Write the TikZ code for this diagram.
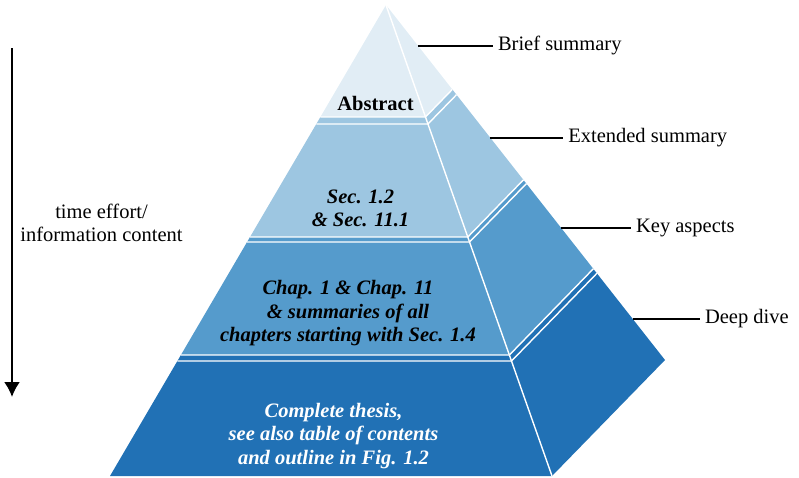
\documentclass[tikz,border=0pt]{standalone}
\usepackage{fontspec}
\setmainfont{Liberation Serif}
\usetikzlibrary{arrows.meta,positioning}
\definecolor{tierone}{RGB}{225,237,245}
\definecolor{tiertwo}{RGB}{157,198,225}
\definecolor{tierthree}{RGB}{85,155,204}
\definecolor{tierfour}{RGB}{33,113,181}

\begin{document}
\begin{tikzpicture}[x=1pt,y=-1pt,>={Latex[length=15pt,width=16pt]},
  sepline/.style={white,line width=1.4pt},
  leader/.style={line width=2pt},
  tag/.style={inner sep=5pt,font=\fontsize{20.5}{23.5}\selectfont},
  tiertext/.style={align=center,inner sep=0pt,font=\fontsize{20.5}{23.5}\selectfont\bfseries\itshape}]
\useasboundingbox (0,0) rectangle (799,477);
\fill[tierone] (386,5)--(320.4,117)--(425.5,117)--(452.3,89.4)--cycle;
\fill[tiertwo] (320.4,117)--(250,237)--(467.8,237)--(523.4,179.9)--(452.3,89.4)--(425.5,117)--cycle;
\fill[tierthree] (250,237)--(180.9,355)--(509.4,355)--(593.3,268.8)--(523.4,179.9)--(467.8,237)--cycle;
\fill[tierfour] (180.9,355)--(110,476)--(552,476)--(665,360)--(593.3,268.8)--(509.4,355)--cycle;
\draw[sepline] (386,5)--(552,476);
\draw[sepline] (320.4,117)--(425.5,117)--(452.3,89.4); \draw[sepline] (316.3,124)--(427.9,124)--(456.5,94.7);
\draw[sepline] (250,237)--(467.8,237)--(523.4,179.9); \draw[sepline] (247.1,242)--(469.5,242)--(526.4,183.6);
\draw[sepline] (180.9,355)--(509.4,355)--(593.3,268.8); \draw[sepline] (177.4,361)--(511.5,361)--(596.9,273.3);
\node[tiertext,font=\fontsize{20.5}{23.5}\selectfont\bfseries,anchor=base] (abstract) at (375.5,110) {Abstract};
\node[tiertext] (sections) at (360.5,208.2) {Sec. 1.2\\\& Sec. 11.1};
\node[tiertext] (chapters) at (348,313.5) {Chap. 1 \& Chap. 11\\\& summaries of all\\chapters starting with Sec. 1.4};
\node[tiertext,text=white] (thesis) at (333.5,436) {Complete thesis,\\see also table of contents\\and outline in Fig. 1.2};
\coordinate (e1) at (417.8,45.5); \coordinate (e2) at (490.1,137.5); \coordinate (e3) at (560.9,227.5); \coordinate (e4) at (632.8,319);
\node[tag,right=75pt of e1] (brief) {Brief summary}; \draw[leader] (e1)--(brief);
\node[tag,right=73pt of e2] (extended) {Extended summary}; \draw[leader] (e2)--(extended);
\node[tag,right=70pt of e3] (key) {Key aspects}; \draw[leader] (e3)--(key);
\node[tag,right=67pt of e4] (deep) {Deep dive}; \draw[leader] (e4)--(deep);
\coordinate (top) at (12,48); \coordinate (bottom) at (12,397);
\draw[->,line width=2pt] (top)--(bottom);
\node[tag,align=center] (effort) at (101.5,223) {time effort/\\information content};
\end{tikzpicture}
\end{document}
